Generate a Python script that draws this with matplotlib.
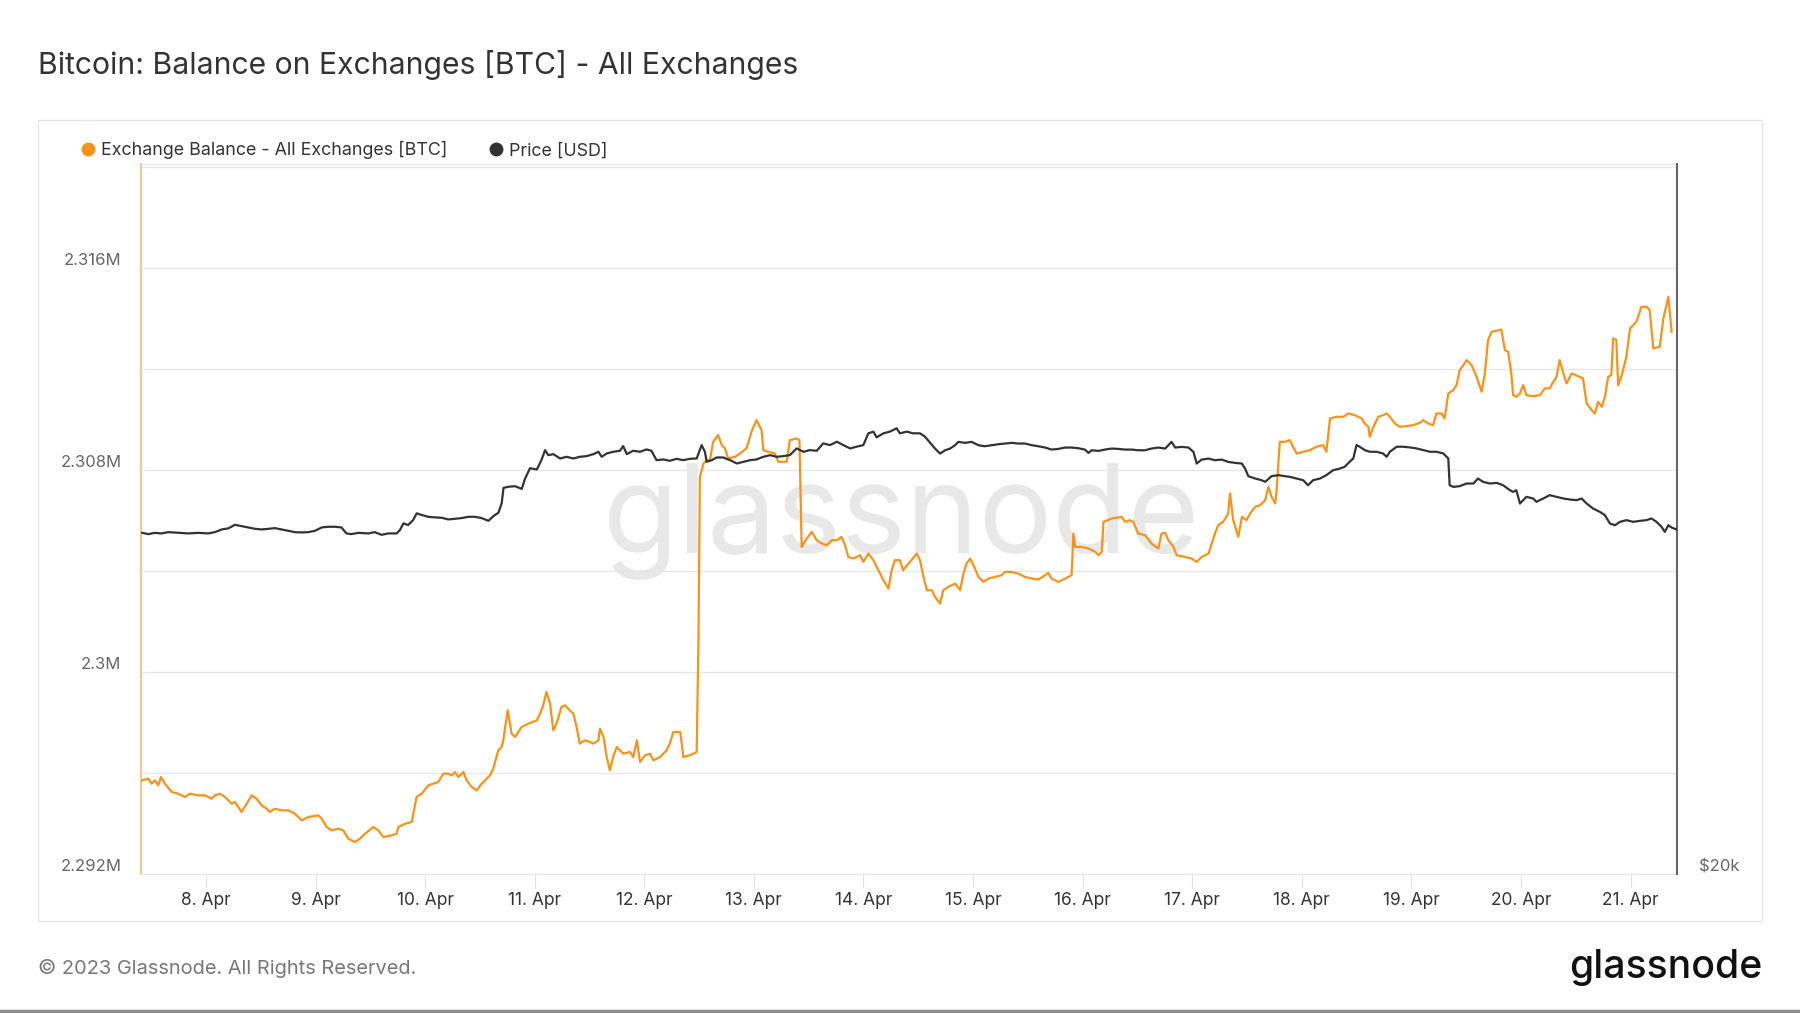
import numpy as np
import pandas as pd
import matplotlib
matplotlib.use("Agg")
import matplotlib.pyplot as plt
import matplotlib.dates as mdates
from matplotlib.ticker import FixedLocator, FuncFormatter, NullLocator
from matplotlib.lines import Line2D
from matplotlib.patches import Rectangle

plt.rcParams['font.family'] = ['Inter', 'DejaVu Sans']

# time axis: hours after the first sample
start = pd.Timestamp("2023-04-07 09:46")
end = start + pd.Timedelta(hours=336.4)

# Exchange balance, all exchanges [BTC]
bal_hours = [
    0.29, 1.61, 2.34, 3.07, 3.80, 4.38, 5.26, 6.72, 8.18, 9.64, 10.73, 12.56, 14.02, 15.48,
    16.21, 17.30, 18.40, 19.86, 20.59, 21.32, 22.05, 23.14, 24.24, 25.33, 26.43, 27.52,
    28.25, 29.35, 30.81, 32.27, 33.73, 35.19, 36.65, 38.84, 39.57, 40.66, 41.76, 43.22,
    44.31, 45.41, 46.87, 47.96, 49.06, 50.88, 51.98, 53.07, 54.90, 55.99, 56.36, 57.82,
    59.28, 60.37, 61.47, 62.93, 65.12, 66.21, 67.31, 68.04, 68.77, 69.50, 70.59, 71.32,
    72.42, 73.51, 74.61, 75.70, 76.43, 77.16, 78.26, 78.99, 79.35, 80.30, 81.18, 81.91,
    83.37, 84.83,
    86.7, 87.4, 88.1, 88.8, 89.6, 90.3, 91.0, 92.1, 92.9, 93.9, 94.7, 95.4, 96.1, 97.2,
    98.3, 99.1, 100.2, 100.5, 101.3, 102.0, 102.7, 103.4, 104.2, 104.9, 105.6, 107.1,
    107.8, 108.6, 109.3, 110.4, 111.5, 112.2, 113.7, 115.1, 115.8, 116.6, 118.1, 118.8,
    120.2, 121.7, 122.1, 122.4, 123.2, 123.9, 124.6, 125.3, 126.4, 127.2, 127.9, 128.6,
    130.1, 131.2, 132.6, 133.7, 134.8, 135.9, 136.3, 137.4, 138.8, 139.6, 141.4, 142.1,
    143.6, 144.2, 144.7, 145.8, 146.9, 148.0, 149.1, 150.2, 151.3, 152.4, 153.4, 154.2,
    154.9, 156.0, 157.5, 158.2, 159.3, 160.4, 161.5, 162.6, 163.7, 164.4, 165.1, 166.2,
    166.9, 168.4, 169.9, 170.6, 171.3, 172.1,
    173.2, 173.9, 175.0, 175.7, 176.8, 178.3, 179.4, 180.1, 180.8, 181.6, 182.3, 183.4,
    184.5, 185.6, 187.0, 188.5, 189.2, 190.7, 192.1, 193.6, 195.1, 196.5, 198.0, 198.7,
    199.4, 200.9, 202.4, 203.8, 204.2, 204.6, 206.0, 207.5, 209.0, 209.7, 210.4, 210.8,
    212.6, 214.8, 215.5, 216.6, 217.3, 218.4, 219.9, 221.3, 222.8, 223.5, 224.3, 225.0,
    226.1, 226.8, 228.6, 230.1, 231.2, 232.3, 233.8, 234.5, 235.2, 235.9, 237.0, 238.1,
    238.5, 239.2, 240.3, 241.1, 242.1, 242.9, 244.0, 245.1, 246.2, 246.9, 247.6, 248.4,
    248.7, 249.4, 250.5,
    251.6, 252.3, 253.1, 254.5, 256.0, 257.4, 258.9, 259.6, 260.4, 261.8, 263.3, 264.4,
    265.8, 267.3, 268.0, 268.8, 269.1, 269.9, 271.0, 272.0, 272.8, 273.5, 274.6, 275.7,
    277.2, 278.6, 280.1, 280.8, 281.9, 283.0, 283.7, 284.8, 285.5, 286.3, 287.4, 288.1,
    288.8, 289.6, 290.3, 291.4, 292.5, 293.6, 294.3, 295.0, 295.8, 296.9, 297.9, 298.7,
    299.4, 300.1, 300.5, 301.2, 302.0, 302.7, 303.4, 304.9, 306.4, 307.4, 308.5, 309.3,
    310.0, 310.7, 311.5, 312.2, 313.3, 314.7, 315.8, 316.6, 317.7, 318.4, 319.1, 319.9,
    320.6, 321.3, 322.0, 322.4, 323.1, 323.5, 324.2, 325.3, 326.1, 327.5, 328.6, 329.7,
    330.4, 331.2, 332.6, 333.4, 334.5, 335.2,
]
bal_btc = [
    2295707, 2295773, 2295575, 2295707, 2295509, 2295839, 2295575, 2295245, 2295179, 2295047,
    2295179, 2295113, 2295113, 2294981, 2295113, 2295179, 2295047, 2294783, 2294849, 2294651,
    2294453, 2294783, 2295113, 2294981, 2294717, 2294585, 2294453, 2294585, 2294519, 2294519,
    2294387, 2294123, 2294255, 2294321, 2294189, 2293859, 2293727, 2293793, 2293727, 2293397,
    2293265, 2293397, 2293595, 2293859, 2293727, 2293463, 2293529, 2293595, 2293859, 2293991,
    2294057, 2295047, 2295179, 2295509, 2295641, 2295971, 2295971, 2295905, 2296037, 2295839,
    2296037, 2295707, 2295443, 2295311, 2295575, 2295773, 2295905, 2296169, 2296895, 2297027,
    2297291, 2298479, 2297555, 2297423, 2297819, 2297951,
    2298083, 2298347, 2298677, 2299205, 2298743, 2297687, 2297951, 2298611, 2298677, 2298479,
    2298347, 2297819, 2297159, 2297291, 2297225, 2297159, 2297291, 2297753, 2297423, 2296631,
    2296103, 2296631, 2297027, 2296895, 2296763, 2296829, 2296631, 2297291, 2296433, 2296697,
    2296763, 2296499, 2296631, 2296895, 2297159, 2297621, 2297621, 2296631, 2296697, 2296829,
    2301383, 2307719, 2308247, 2308379, 2308379, 2309105, 2309369, 2308973, 2308841, 2308445,
    2308511, 2308643, 2308841, 2309501, 2309963, 2309567, 2308775, 2308709, 2308643, 2308313,
    2308313, 2309171, 2309237, 2309171, 2304947, 2305277, 2305541, 2305211, 2305079, 2305013,
    2305211, 2305211, 2305343, 2305013, 2304551, 2304485, 2304617, 2304353, 2304683, 2304419,
    2304023, 2303627, 2303297, 2304023, 2304419, 2304419, 2304023, 2304353, 2304683, 2304419,
    2303825, 2303231,
    2303231, 2302967, 2302703, 2303231, 2303363, 2303495, 2303231, 2303891, 2304287, 2304485,
    2304221, 2303759, 2303561, 2303693, 2303759, 2303825, 2303957, 2303957, 2303891, 2303759,
    2303693, 2303653, 2303825, 2303917, 2303693, 2303561, 2303693, 2303825, 2305475, 2304947,
    2304947, 2304881, 2304749, 2304617, 2304749, 2305937, 2306069, 2306135, 2305937, 2306003,
    2305937, 2305475, 2305409, 2305079, 2304881, 2305475, 2305501, 2305211, 2304947, 2304617,
    2304551, 2304485, 2304353, 2304551, 2304683, 2305079, 2305475, 2305805, 2305937, 2306267,
    2307059, 2306003, 2305343, 2306135, 2306003, 2306267, 2306531, 2306597, 2306795, 2307323,
    2306927, 2306663, 2307191, 2309105, 2309105,
    2309171, 2308907, 2308643, 2308709, 2308775, 2308907, 2308973, 2308709, 2310029, 2310095,
    2310095, 2310227, 2310161, 2310029, 2309831, 2309699, 2309303, 2309699, 2310095, 2310161,
    2310227, 2310095, 2309831, 2309699, 2309725, 2309765, 2309857, 2309963, 2309831, 2309765,
    2310227, 2310227, 2310029, 2311019, 2311151, 2311349, 2311943, 2312141, 2312339, 2312141,
    2311679, 2311085, 2311811, 2313131, 2313461, 2313501, 2313553, 2312735, 2312669, 2311811,
    2310953, 2310887, 2311019, 2311349, 2310953, 2310913, 2310953, 2311217, 2311217, 2311481,
    2311679, 2312339, 2311811, 2311415, 2311811, 2311705, 2311613, 2310623, 2310359, 2310227,
    2310689, 2310491, 2310887, 2311679, 2311745, 2313197, 2313131, 2311349, 2311679, 2312471,
    2313593, 2313857, 2314451, 2314451, 2314319, 2312801, 2312867, 2313989, 2314847, 2313461,
]

# BTC price [USD]
price_hours = [
    0.29, 1.6, 3.07, 4.5, 6.0, 8.2, 10.4, 12.6, 14.7, 16.2, 17.7, 19.1, 20.6, 22.0, 23.5,
    25.0, 26.4, 27.9, 29.3, 30.8, 32.3, 33.7, 35.2, 36.6, 38.1, 39.6, 41.0, 42.5, 43.9,
    45.0, 46.1, 47.6, 49.8, 51.2, 52.7, 54.2, 56.0, 56.7, 57.5, 58.5, 59.6, 60.4, 61.5,
    62.9, 64.4, 65.9, 67.3, 68.8, 70.2, 71.7, 73.1, 74.6, 76.1, 77.2, 78.3, 79.0, 79.4,
    80.4, 81.9, 83.4, 84.1, 85.2,
    86.7, 87.7, 88.5, 89.2, 90.3, 91.8, 93.2, 94.7, 96.1, 97.6, 99.1, 100.2, 100.9, 102.0,
    103.4, 104.9, 105.6, 106.4, 107.8, 109.3, 110.7, 111.8, 112.9, 114.4, 115.8, 117.3,
    118.8, 120.2, 121.7, 122.8, 123.5, 123.9, 125.0, 126.1, 127.5, 129.0, 130.5, 131.9,
    133.4, 134.8, 136.3, 137.8, 139.2, 140.7, 142.1, 143.6, 145.1, 146.5, 148.0, 149.4,
    150.9, 152.4, 153.8, 155.3, 156.7, 158.2, 159.3, 160.4, 161.1, 162.6, 164.0, 165.5,
    166.2, 167.7, 169.1, 170.6, 171.7,
    173.9, 175.0, 176.1, 177.2, 178.3, 179.0, 180.5, 181.9, 183.4, 184.8, 186.3, 187.8,
    189.2, 190.7, 192.1, 193.6, 195.1, 196.5, 198.0, 199.4, 200.9, 202.4, 203.8, 205.3,
    206.7, 207.5, 208.2, 209.7, 211.1, 212.6, 214.0, 215.5, 217.0, 218.4, 219.9, 221.3,
    222.8, 224.3, 225.7, 226.5, 227.9, 229.4, 230.5, 231.2, 232.3, 233.8, 235.2, 236.7,
    238.1, 239.6, 241.1, 241.8, 242.5, 244.0, 245.4, 246.2, 247.6, 249.1, 250.5,
    251.6, 253.1, 254.5, 255.6, 256.7, 258.2, 259.6, 261.1, 262.6, 263.6, 264.7, 265.5,
    266.2, 266.9, 268.0, 269.1, 270.6, 272.0, 272.8, 273.5, 275.0, 276.4, 277.9, 279.3,
    280.8, 282.3, 283.7, 285.2, 286.3, 286.6, 287.4, 288.8, 290.3, 291.8, 292.8, 293.9,
    295.4, 296.9, 298.3, 299.8, 300.5, 301.2, 302.0, 303.4, 304.9, 305.6, 307.1, 308.5,
    310.0, 311.5, 312.9, 314.4, 315.5, 316.6, 318.0, 319.5, 320.6, 321.7, 322.8, 323.9,
    325.3, 326.8, 328.3, 329.7, 330.8, 331.9, 333.0, 333.7, 334.5, 335.2, 336.3,
]
price_usd = [
    27905, 27870, 27905, 27889, 27924, 27905, 27889, 27905, 27889, 27924, 27998, 28026, 28125,
    28089, 28053, 28014, 27998, 28014, 28034, 27998, 27960, 27924, 27916, 27924, 27960, 28053,
    28071, 28071, 28053, 27889, 27870, 27905, 27889, 27924, 27851, 27889, 27889, 27979, 28164,
    28117, 28254, 28442, 28395, 28345, 28329, 28318, 28273, 28290, 28310, 28345, 28345, 28310,
    28235, 28365, 28460, 28725, 29157, 29187, 29206, 29128, 29414, 29722,
    29685, 29957, 30252, 30104, 30134, 30006, 30055, 30006, 30055, 30075, 30134, 30203, 30055,
    30153, 30203, 30233, 30371, 30134, 30233, 30203, 30272, 30233, 29957, 29977, 29938, 29996,
    29957, 29996, 30006, 30401, 30203, 29908, 29957, 30036, 30036, 29957, 29860, 29908, 29957,
    29977, 30055, 30104, 30055, 30075, 30104, 30302, 30203, 30252, 30233, 30451, 30401, 30501,
    30401, 30302, 30352, 30401, 30752, 30802, 30631, 30752, 30802, 30903, 30752, 30802, 30752,
    30752, 30651,
    30298, 30150, 30248, 30298, 30397, 30497, 30467, 30497, 30397, 30367, 30397, 30427, 30447,
    30467, 30447, 30447, 30397, 30367, 30328, 30268, 30288, 30328, 30328, 30308, 30268, 30170,
    30248, 30229, 30268, 30298, 30288, 30268, 30268, 30248, 30248, 30298, 30328, 30298, 30497,
    30328, 30348, 30328, 30199, 29858, 29974, 30003, 29955, 29974, 29906, 29877, 29858, 29713,
    29492, 29425, 29377, 29330, 29492, 29521, 29492,
    29473, 29425, 29377, 29233, 29377, 29425, 29521, 29666, 29714, 29763, 29909, 30007, 30402,
    30352, 30253, 30203, 30203, 30154, 30055, 30203, 30352, 30352, 30332, 30303, 30253, 30203,
    30203, 30154, 30007, 29233, 29186, 29205, 29281, 29281, 29425, 29330, 29281, 29300, 29233,
    29091, 29043, 29091, 28715, 28903, 28856, 28762, 28856, 28950, 28903, 28856, 28828, 28809,
    28856, 28715, 28575, 28482, 28390, 28160, 28114, 28206, 28252, 28206, 28234, 28252, 28299,
    28206, 28069, 27932, 28114, 28050, 27996,
]

grid_levels = [2292000, 2296000, 2300000, 2304000, 2308000, 2312000, 2316000, 2320000]
label_levels = [2292000, 2300000, 2308000, 2316000]

title = "Bitcoin: Balance on Exchanges [BTC] - All Exchanges"
bal_label = "Exchange Balance - All Exchanges [BTC]"
price_label = "Price [USD]"

orange = "#f7931a"
dark = "#333333"

bal_time = start + pd.to_timedelta(bal_hours, unit="h")
price_time = start + pd.to_timedelta(price_hours, unit="h")

fig = plt.figure(figsize=(18, 10.13), dpi=100)
ax = fig.add_axes([0.0783, 0.1372, 0.8534, 0.7009])
ax2 = ax.twinx()

ax.plot(bal_time, bal_btc, color=orange, lw=1.6, zorder=3)
ax2.plot(price_time, price_usd, color=dark, lw=1.6, zorder=3)

# left axis
ax.set_xlim(start, end)
ax.set_ylim(2292000, 2320100)
ax.yaxis.set_major_locator(FixedLocator(grid_levels))
ax.yaxis.set_major_formatter(FuncFormatter(
    lambda v, p: f"{v / 1e6:g}M" if int(round(v)) in label_levels else ""))
ax.grid(axis="y", color="#e6e6e6", lw=1)
ax.set_axisbelow(True)
ax.tick_params(axis="y", length=0, labelsize=12, labelcolor="#666666", pad=14)
plt.setp(ax.get_yticklabels(), va="bottom")

# x axis
ax.xaxis.set_major_locator(mdates.DayLocator())
ax.xaxis.set_major_formatter(FuncFormatter(
    lambda x, p: f"{mdates.num2date(x).day}. {mdates.num2date(x):%b}"))
ax.tick_params(axis="x", length=10, color="#e0e0e0", labelsize=12.5,
               labelcolor="#333333", pad=3)

# right axis (price, log)
ax2.set_yscale("log")
ax2.set_ylim(20000, 40000)
ax2.yaxis.set_major_locator(FixedLocator([20000]))
ax2.yaxis.set_minor_locator(NullLocator())
ax2.yaxis.set_major_formatter(FuncFormatter(lambda v, p: f"${v / 1000:.0f}k"))
ax2.tick_params(axis="y", length=0, labelsize=12, labelcolor="#666666", pad=16)
plt.setp(ax2.get_yticklabels(), va="bottom")

for s in ["top", "bottom"]:
    ax.spines[s].set_color("#e6e6e6")
ax.spines["left"].set_color("#f9c68a")
ax.spines["left"].set_linewidth(1.5)
ax.spines["right"].set_visible(False)
for s in ["top", "bottom", "left"]:
    ax2.spines[s].set_visible(False)
ax2.spines["right"].set_color("#666666")
ax2.spines["right"].set_linewidth(1.5)

# watermark
ax.text(0.495, 0.496, "glassnode", transform=ax.transAxes, fontsize=88.5,
        color="#e8e8e8", ha="center", va="center", zorder=0)

# legend
handles = [Line2D([], [], marker="o", ls="", color=orange, markersize=9),
           Line2D([], [], marker="o", ls="", color=dark, markersize=9)]
fig.legend(handles, [bal_label, price_label], loc="center left",
           bbox_to_anchor=(0.035, 0.8515), frameon=False, ncol=2, fontsize=12.85,
           handletextpad=0.25, columnspacing=2.2, handlelength=1.0, labelcolor="#333333")

fig.text(0.0211, 0.9358, title, fontsize=21.7, color="#333333", va="center")
fig.text(0.0211, 0.0444, "© 2023 Glassnode. All Rights Reserved.", fontsize=14.4,
         color="#777777", va="center")
fig.text(0.979, 0.0454, "glassnode", fontsize=28.2, weight="medium", color="#111111",
         ha="right", va="center")

fig.add_artist(Rectangle((0.0211, 0.0908), 0.9578, 0.7907, transform=fig.transFigure,
                         fill=False, ec="#e6e6e6", lw=1))
fig.add_artist(Line2D([0, 1], [0.002, 0.002], transform=fig.transFigure,
                      color="#8c8c8c", lw=2.5))

fig.savefig("out.png", dpi=100)
